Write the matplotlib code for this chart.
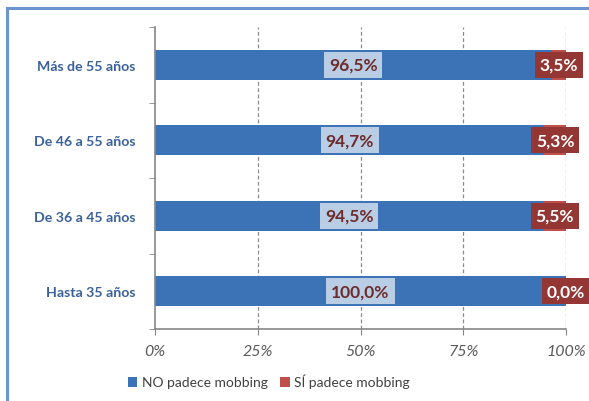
import numpy as np
import matplotlib.pyplot as plt
from matplotlib.patches import Rectangle

plt.rcParams['font.family'] = ['Lato', 'DejaVu Sans']

# Datos: porcentaje que padece / no padece mobbing por edad
grupos = ['Hasta 35 años', 'De 36 a 45 años', 'De 46 a 55 años', 'Más de 55 años']
no_padece = [100.0, 94.5, 94.7, 96.5]
si_padece = [0.0, 5.5, 5.3, 3.5]
ticks_x = [0, 25, 50, 75, 100]

AZUL = '#3C73B6'
ROJO = '#C0504D'
CAJA_AZUL = '#B9CDE5'
CAJA_ROJA = '#943634'
TEXTO_CAT = '#3A619A'

fig = plt.figure(figsize=(5.89, 4.02), dpi=100)
ax = fig.add_axes([155/589, 1 - 330/402, 411/589, 302/402])

# marco exterior del gráfico
fig.patches.append(Rectangle((7/589, -0.1), 1.2, 1 - 9/402 + 0.1,
                             transform=fig.transFigure, fill=False,
                             edgecolor='#6A95CF', linewidth=2.2, zorder=0))

y = np.arange(len(grupos))
h = 0.4
ax.barh(y, no_padece, height=h, color=AZUL, label='NO padece mobbing', zorder=2)
ax.barh(y, si_padece, left=no_padece, height=h, color=ROJO,
        label='SÍ padece mobbing', zorder=2)

def fmt(v):
    return f'{v:.1f}%'.replace('.', ',')

for yi, n, s in zip(y, no_padece, si_padece):
    ax.text(n / 2, yi, fmt(n), ha='center', va='center', fontsize=12.5,
            fontweight='bold', color='#6E2B2B', zorder=4,
            bbox=dict(boxstyle='square,pad=0.28', facecolor=CAJA_AZUL, edgecolor='none'))
    ax.text(n + s / 2, yi, fmt(s), ha='center', va='center', fontsize=12.5,
            fontweight='bold', color='white', zorder=4, clip_on=False,
            bbox=dict(boxstyle='square,pad=0.28', facecolor=CAJA_ROJA, edgecolor='none'))

ax.set_xlim(0, 100)
ax.set_ylim(-0.5, len(grupos) - 0.5)
ax.set_xticks(ticks_x)
ax.set_xticklabels([f'{t}%' for t in ticks_x], fontstyle='italic',
                   fontsize=11.5, color='#595959')
ax.set_yticks(y)
ax.set_yticklabels(grupos, fontsize=10.2, fontweight='bold', color=TEXTO_CAT)
ax.set_yticks(np.arange(len(grupos) + 1) - 0.5, minor=True)
ax.tick_params(axis='y', which='major', length=0, pad=14)
ax.tick_params(axis='y', which='minor', length=4, color='#868686', direction='out')
ax.tick_params(axis='x', length=4, color='#868686', direction='out', pad=7)

for t in ticks_x[1:]:
    ax.axvline(t, color='#8C8C8C', linestyle=(0, (3, 2)), linewidth=0.9, zorder=1)

for side in ['top', 'right']:
    ax.spines[side].set_visible(False)
for side in ['left', 'bottom']:
    ax.spines[side].set_color('#868686')
    ax.spines[side].set_linewidth(1.2)

fig.legend(loc='lower center', bbox_to_anchor=(0.456, 0.0), ncol=2, frameon=False,
           fontsize=10, handlelength=0.7, handleheight=0.7, handletextpad=0.3,
           columnspacing=0.9, labelcolor='#404040')

fig.savefig('out.png', dpi=100)
